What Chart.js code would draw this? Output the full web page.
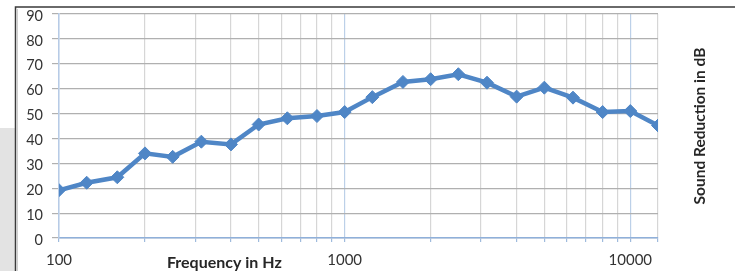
<!DOCTYPE html>
<html>
<head>
<meta charset="utf-8">
<script src="https://cdn.jsdelivr.net/npm/chart.js@4/dist/chart.umd.min.js"></script>
<style>
  html, body { margin: 0; padding: 0; background: #ffffff; }
  #wrap { position: relative; width: 735px; height: 271px; }
</style>
</head>
<body>
<div id="wrap"><canvas id="c" width="735" height="271"></canvas></div>
<script>
// ---- data ----
const frequencies = [100, 125, 160, 200, 250, 315, 400, 500, 630, 800, 1000, 1250, 1600, 2000, 2500, 3150, 4000, 5000, 6300, 8000, 10000, 12500];
const soundReduction = [19.2, 22.2, 24.4, 34, 32.6, 38.7, 37.6, 45.6, 48.1, 49, 50.6, 56.6, 62.7, 63.8, 65.8, 62.4, 56.8, 60.4, 56.4, 50.6, 51, 45.2];
const gridFrequencies = [100, 200, 300, 400, 500, 600, 700, 800, 900, 1000, 2000, 3000, 4000, 5000, 6000, 7000, 8000, 9000, 10000, 12500];
const labelledFrequencies = [100, 1000, 10000];
const yTicks = [0, 10, 20, 30, 40, 50, 60, 70, 80, 90];
const xTitle = 'Frequency in Hz';
const yTitle = 'Sound Reduction in dB';

const LINE = '#4f86c6';
const FONT = 'Lato, "Open Sans", sans-serif';

const framePlugin = {
  id: 'frame',
  beforeDraw(chart) {
    const ctx = chart.ctx;
    ctx.save();
    ctx.fillStyle = '#e3e3e3';
    ctx.fillRect(0, 128, 15, 143);
    ctx.strokeStyle = '#3a3a3a';
    ctx.lineWidth = 1.5;
    ctx.beginPath();
    ctx.moveTo(15.5, 271);
    ctx.lineTo(15.5, 7);
    ctx.lineTo(735, 7);
    ctx.stroke();
    ctx.strokeStyle = '#cfcfcf';
    ctx.lineWidth = 1;
    ctx.beginPath();
    ctx.moveTo(17.5, 271);
    ctx.lineTo(17.5, 9);
    ctx.stroke();
    ctx.restore();
  },
  afterDraw(chart) {
    const ctx = chart.ctx;
    const a = chart.chartArea;
    ctx.save();
    ctx.fillStyle = '#262626';
    ctx.font = 'bold 16px ' + FONT;
    ctx.textAlign = 'center';
    ctx.textBaseline = 'middle';
    ctx.fillText(xTitle, a.left + (a.right - a.left) * 0.276, 263);
    ctx.translate(700, (a.top + a.bottom) / 2);
    ctx.rotate(-Math.PI / 2);
    ctx.font = 'bold 15.5px ' + FONT;
    ctx.fillText(yTitle, 0, 0);
    ctx.restore();
  }
};

new Chart(document.getElementById('c'), {
  type: 'line',
  data: {
    datasets: [{
      data: frequencies.map((f, i) => ({ x: f, y: soundReduction[i] })),
      borderColor: LINE,
      backgroundColor: LINE,
      borderWidth: 4.5,
      pointStyle: 'rectRot',
      pointRadius: 6.5,
      pointBorderWidth: 1,
      pointBackgroundColor: LINE,
      pointBorderColor: LINE,
      tension: 0
    }]
  },
  options: {
    responsive: false,
    animation: false,
    devicePixelRatio: 1,
    layout: { padding: { left: 0, right: 77, top: 14, bottom: 0 } },
    plugins: { legend: { display: false }, tooltip: { enabled: false } },
    scales: {
      x: {
        type: 'logarithmic',
        min: 100,
        max: 12500,
        afterBuildTicks(scale) {
          scale.ticks = gridFrequencies.map(v => ({ value: v }));
        },
        afterFit(scale) { scale.height = 33; scale.paddingLeft = 0; scale.paddingRight = 0; },
        grid: {
          color: ctx => (ctx.tick && labelledFrequencies.includes(ctx.tick.value)) ? '#bcd0e8' : '#d6d6d6',
          tickColor: '#9fbbdd',
          tickLength: 4,
          lineWidth: 1.2
        },
        border: { color: '#8fb0da', width: 1.5 },
        ticks: {
          autoSkip: false,
          maxRotation: 0,
          padding: 9,
          color: '#333333',
          font: { family: FONT, size: 15 },
          callback: v => labelledFrequencies.includes(v) ? String(v) : ''
        }
      },
      y: {
        min: 0,
        max: 90,
        afterBuildTicks(scale) {
          scale.ticks = yTicks.map(v => ({ value: v }));
        },
        afterFit(scale) { scale.width = 59; scale.paddingTop = 0; scale.paddingBottom = 0; },
        grid: {
          color: '#b0b0b0',
          tickColor: '#b0b0b0',
          tickLength: 7,
          lineWidth: 1.2
        },
        border: { color: '#b7cbe6', width: 1.5 },
        ticks: {
          padding: 9,
          labelOffset: 2,
          color: '#333333',
          font: { family: FONT, size: 14.5 }
        }
      }
    }
  },
  plugins: [framePlugin]
});
</script>
</body>
</html>
